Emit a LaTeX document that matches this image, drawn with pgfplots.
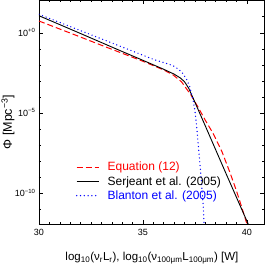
\documentclass[border=0pt]{standalone}
\usepackage{fontspec}
\setmainfont{Liberation Sans}
\usepackage{pgfplots}
\pgfplotsset{compat=1.18}
\begin{document}
\begin{tikzpicture}
\begin{axis}[
  scale only axis, width=225pt, height=224pt,
  xmin=30, xmax=40.83,
  ymode=log, ymin=1.17e-12, ymax=110,
  xtick={30,35,40}, minor x tick num=9,
  ytick={1e-10,1e-5,1},
  yticklabels={10\textsuperscript{−10},10\textsuperscript{−5},10\textsuperscript{+0}},
  minor ytick={1e-12,1e-11,1e-9,1e-8,1e-7,1e-6,1e-4,1e-3,1e-2,1e-1,1e1,1e2},
  tick align=inside, major tick length=4pt, minor tick length=2pt,
  tick style={black, thin},
  /pgf/number format/assume math mode=true,
  ticklabel style={font=\fontsize{9}{10}\selectfont},
  xticklabel style={yshift=-2pt},
  xlabel={log\textsubscript{10}(ν\textsubscript{r}L\textsubscript{r}), log\textsubscript{10}(ν\textsubscript{100μm}L\textsubscript{100μm}) [W]},
  ylabel={Φ [Mpc\textsuperscript{−3}]},
  xlabel style={font=\fontsize{11.5}{13}\selectfont, at={(axis description cs:0.502,-0.152)}, anchor=center},
  ylabel style={font=\fontsize{12.5}{14}\selectfont, at={(axis description cs:-0.138,0.455)}, anchor=center},
  legend style={draw=none, fill=none, font=\fontsize{12}{15}\selectfont,
    at={(axis description cs:0.15,0.085)}, anchor=south west, row sep=0pt, column sep=6pt},
  legend cell align=left,
  clip=true,
]
\coordinate (bl) at (rel axis cs:0,0);
\coordinate (tr) at (rel axis cs:1,1);
\addplot[red, line width=1pt, dash pattern=on 6pt off 3pt,
  legend image code/.code={\draw[draw=red, line width=1.1pt, dash pattern=on 6pt off 3pt] (0cm,0cm) -- (0.78cm,0cm);}] table[x=x, y expr=10^\thisrow{ly}] {
x ly
30 0.73
31 0.23
32 -0.27
33 -0.78
34 -1.28
35 -1.78
35.5 -2.05
36.0 -2.32
36.46 -2.64
36.86 -3.06
37.1 -3.50
37.3 -3.85
37.5 -4.30
37.66 -4.65
38.0 -5.45
38.38 -6.28
38.8 -7.40
39.2 -8.75
39.5 -9.85
39.75 -10.85
40.0 -11.9
};
\addlegendentry{\textcolor{red}{Equation (12)}}
\addplot[black, line width=0.9pt,
  legend image code/.code={\draw[draw=black, line width=0.9pt] (0cm,0cm) -- (0.78cm,0cm);}] table[x=x, y expr=10^\thisrow{ly}] {
x ly
30 1.06
32 -0.05
34 -1.17
35 -1.72
36 -2.28
36.5 -2.58
36.8 -2.82
37.0 -3.05
37.2 -3.45
37.5 -4.32
38 -5.80
39 -8.78
40 -11.73
40.3 -12.6
};
\addlegendentry{Serjeant et al. (2005)}
\addplot[blue, line width=1.4pt, line cap=round, dash pattern=on 0pt off 3.8pt,
  legend image code/.code={\draw[draw=blue, line width=1.5pt, line cap=round, dash pattern=on 0pt off 3.8pt] (0cm,0cm) -- (0.78cm,0cm);}] table[x=x, y expr=10^\thisrow{ly}] {
x ly
30.0 1.15
31.0 0.64
32.0 0.13
33.0 -0.38
34.0 -0.89
35.0 -1.40
35.5 -1.66
36.0 -1.86
36.46 -2.06
36.7 -2.26
36.9 -2.50
37.1 -2.90
37.25 -3.35
37.4 -4.10
37.5 -4.80
37.6 -6.00
37.7 -7.50
37.8 -9.00
37.9 -10.70
37.97 -12.5
};
\addlegendentry{\textcolor{blue}{Blanton et al. (2005)}}
\end{axis}
\path (bl) ++(-39pt,-42pt) coordinate (a);
\path (tr) ++(0.5pt,0pt) coordinate (b);
\pgfresetboundingbox
\path (a) rectangle (b);
\end{tikzpicture}
\end{document}
